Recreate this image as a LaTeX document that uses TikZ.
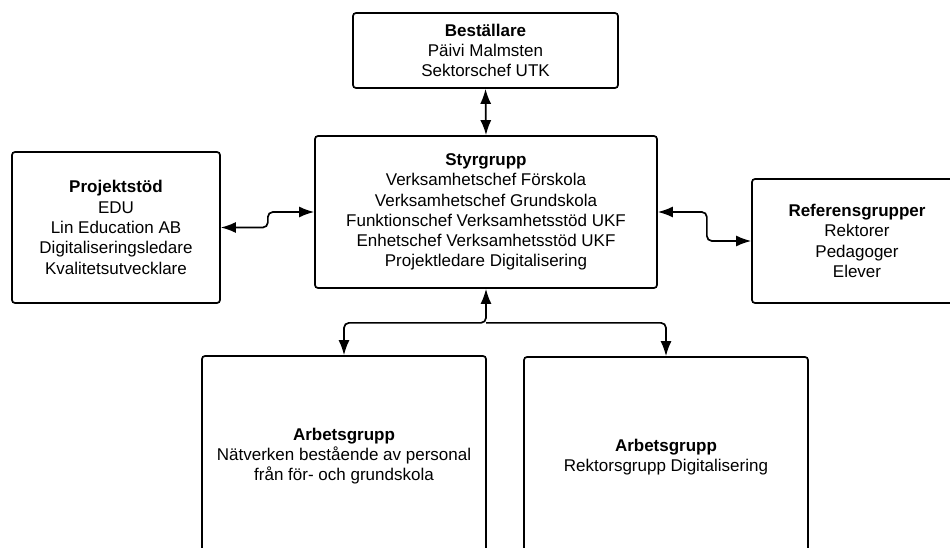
\documentclass[tikz,border=0pt]{standalone}
\usepackage{fontspec}
\setmainfont{Liberation Sans}
\usepackage{tikz}
\usetikzlibrary{arrows.meta,positioning,calc}

\tikzset{
	grupp/.style={draw,line width=1.7pt,rounded corners=3pt,align=center,inner sep=0pt,
		font=\fontsize{17}{20.3}\selectfont},
	pil/.style={line width=1.7pt,rounded corners=5pt,>={Latex[length=15pt,width=11pt]}}
}

\begin{document}
\begin{tikzpicture}[x=1pt,y=-1pt]
	\clip (0,0) rectangle (950,548);
	\node[grupp,minimum width=265,minimum height=75] (bestallare) at (485.5,50.5) {\textbf{Beställare}\\Päivi Malmsten\\Sektorschef UTK};
	\node[grupp,minimum width=342,minimum height=152] (styrgrupp) at (486,212) {\textbf{Styrgrupp}\\Verksamhetschef Förskola\\Verksamhetschef Grundskola\\Funktionschef Verksamhetsstöd UKF\\Enhetschef Verksamhetsstöd UKF\\Projektledare Digitalisering};
	\node[grupp,minimum width=208,minimum height=151] (projektstod) at (116,227.5) {\textbf{Projektstöd}\\EDU\\Lin Education AB\\Digitaliseringsledare\\Kvalitetsutvecklare};
	\node[grupp,minimum width=210,minimum height=124] (referens) at (857,241) {\textbf{Referensgrupper}\\Rektorer\\Pedagoger\\Elever};
	\node[grupp,minimum width=284,minimum height=200] (arbetsA) at (344,456) {\textbf{Arbetsgrupp}\\Nätverken bestående av personal\\från för- och grundskola};
	\node[grupp,minimum width=284,minimum height=200] (arbetsB) at (666,457) {\textbf{Arbetsgrupp}\\Rektorsgrupp Digitalisering};
	% kopplingar
	\draw[pil,<->] (bestallare.south) -- (styrgrupp.north);
	\draw[pil,<->] (projektstod.east) -- ++(47,0) |- (styrgrupp.west);
	\draw[pil,<->] (styrgrupp.east) -- ++(49,0) |- (referens.west);
	\draw[pil,<->] (styrgrupp.south) -- ++(0,34) coordinate (delning) -| (arbetsA.north);
	\draw[pil,->] (delning) -| (arbetsB.north);
\end{tikzpicture}
\end{document}
